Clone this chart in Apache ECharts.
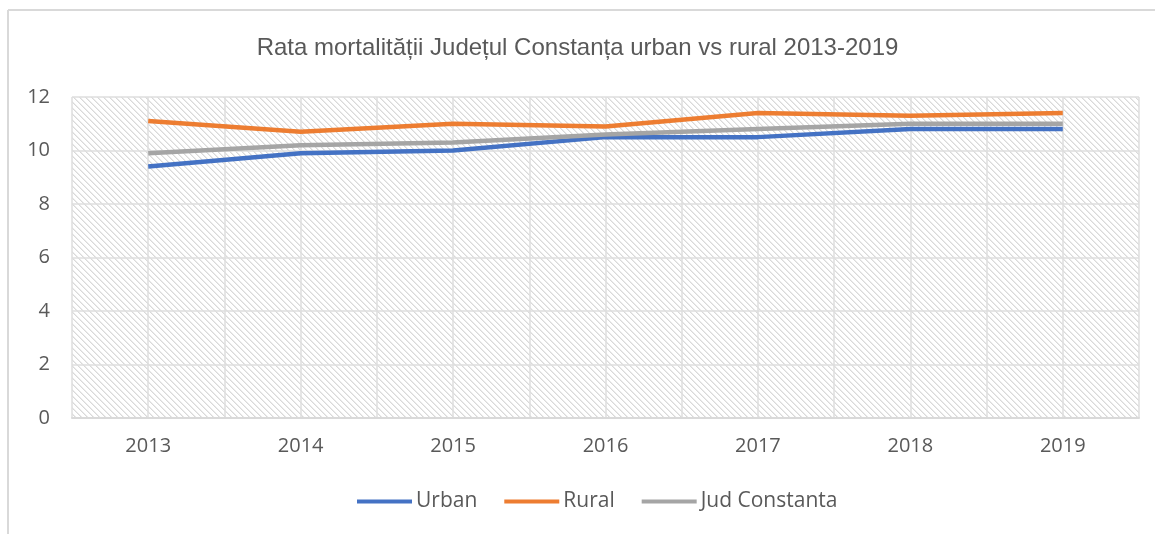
<!DOCTYPE html>
<html>
<head>
<meta charset="utf-8">
<script src="https://cdn.jsdelivr.net/npm/echarts@6/dist/echarts.min.js"></script>
<style>html,body{margin:0;padding:0;background:#fff;}#c{width:1155px;height:534px;}</style>
</head>
<body>
<div id="c"></div>
<script>
const titleText = 'Rata mortalității Județul Constanța urban vs rural 2013-2019';
const years = ['2013', '2014', '2015', '2016', '2017', '2018', '2019'];
const urban = [9.4, 9.9, 10.0, 10.5, 10.5, 10.8, 10.8];
const rural = [11.1, 10.7, 11.0, 10.9, 11.4, 11.3, 11.4];
const judConstanta = [9.9, 10.2, 10.3, 10.6, 10.8, 11.0, 11.0];
const seriesNames = ['Urban', 'Rural', 'Jud Constanta'];
const yTicks = [0, 2, 4, 6, 8, 10, 12];

// hatch pattern tile
const N = 6;
const tile = document.createElement('canvas');
tile.width = N; tile.height = N;
const tc = tile.getContext('2d');
tc.fillStyle = '#ffffff';
tc.fillRect(0, 0, N, N);
for (let i = 0; i < N; i++) {
  tc.fillStyle = '#d9d9d9';
  tc.fillRect(i, i, 1, 1);
  tc.fillStyle = '#ebebeb';
  tc.fillRect((i + 1) % N, i, 1, 1);
}

const chart = echarts.init(document.getElementById('c'), null, {renderer: 'canvas'});
const labelFont = '"Open Sans", "Liberation Sans", sans-serif';
chart.setOption({
  animation: false,
  backgroundColor: '#ffffff',
  title: {
    text: titleText,
    left: 'center',
    top: 31,
    textStyle: {fontFamily: '"Liberation Sans", Arial, sans-serif', fontSize: 24, fontWeight: 'normal', color: '#595959'}
  },
  legend: {
    data: seriesNames,
    bottom: 17,
    left: 352,
    icon: 'rect',
    itemWidth: 55,
    itemHeight: 4,
    itemGap: 27,
    textStyle: {fontFamily: labelFont, fontSize: 21, color: '#595959', padding: [0, 0, 0, -1]}
  },
  grid: {
    left: 72, right: 16, top: 97, bottom: 116,
    show: true,
    borderWidth: 0,
    backgroundColor: {image: tile, repeat: 'repeat'}
  },
  xAxis: [{
    type: 'category',
    data: years,
    boundaryGap: true,
    axisLine: {lineStyle: {color: '#d9d9d9', width: 2}},
    axisTick: {show: false},
    axisLabel: {fontFamily: labelFont, fontSize: 20, color: '#595959', margin: 18},
    splitLine: {show: false}
  }, {
    type: 'value',
    min: 0, max: 14, interval: 1,
    show: true,
    axisLine: {show: false},
    axisTick: {show: false},
    axisLabel: {show: false},
    splitLine: {show: true, lineStyle: {color: '#dedede', width: 1.5}}
  }],
  yAxis: {
    type: 'value',
    min: yTicks[0], max: yTicks[yTicks.length - 1], interval: 2,
    axisLine: {show: false},
    axisTick: {show: false},
    axisLabel: {fontFamily: labelFont, fontSize: 20, color: '#595959', margin: 22},
    splitLine: {show: true, lineStyle: {color: '#dedede', width: 1.5}}
  },
  series: [
    {name: seriesNames[0], type: 'line', data: urban, showSymbol: false, symbol: 'none', lineStyle: {width: 4.5, color: '#4472C4'}, itemStyle: {color: '#4472C4'}},
    {name: seriesNames[1], type: 'line', data: rural, showSymbol: false, symbol: 'none', lineStyle: {width: 4.5, color: '#ED7D31'}, itemStyle: {color: '#ED7D31'}},
    {name: seriesNames[2], type: 'line', data: judConstanta, showSymbol: false, symbol: 'none', lineStyle: {width: 4.5, color: '#A5A5A5'}, itemStyle: {color: '#A5A5A5'}}
  ],
  graphic: [
    {type: 'line', shape: {x1: 8, y1: 10, x2: 1155, y2: 10}, style: {stroke: '#d9d9d9', lineWidth: 2}, silent: true},
    {type: 'line', shape: {x1: 8, y1: 10, x2: 8, y2: 534}, style: {stroke: '#d9d9d9', lineWidth: 2}, silent: true}
  ]
});
</script>
</body>
</html>
